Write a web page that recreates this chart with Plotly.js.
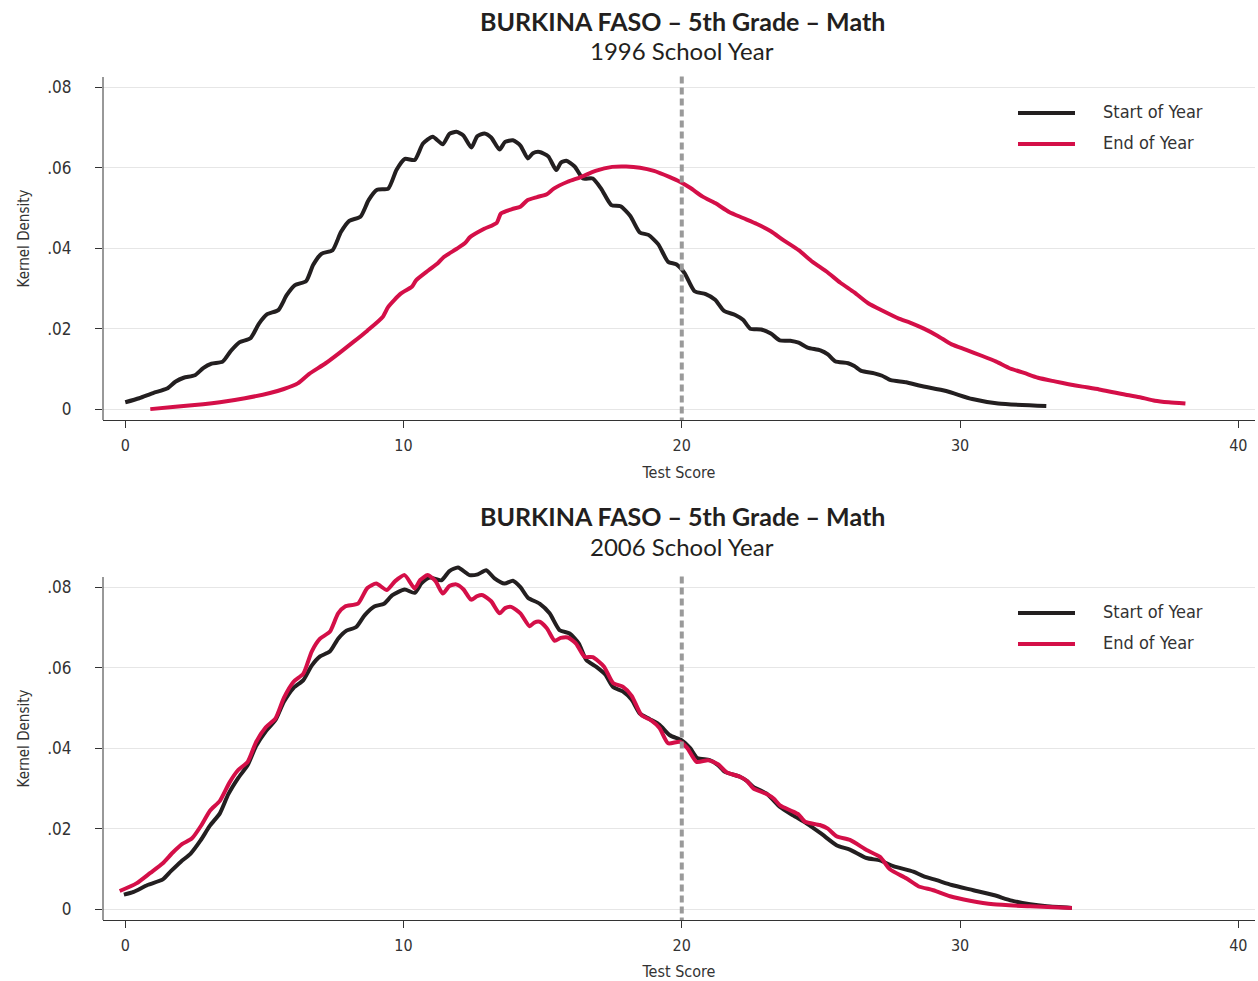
<!DOCTYPE html>
<html>
<head>
<meta charset="utf-8">
<script src="https://cdn.plot.ly/plotly-3.0.1.min.js"></script>
<style>html,body{margin:0;padding:0;background:#fff;}#chart{width:1258px;height:981px;}</style>
</head>
<body>
<div id="chart"></div>
<script>
// ---- Data ----
const titleMain = "BURKINA FASO – 5th Grade – Math";
const subtitles = ["1996 School Year", "2006 School Year"];
const seriesNames = ["Start of Year", "End of Year"];
const xTicks = [0, 10, 20, 30, 40];
const yTicks = [0, 0.02, 0.04, 0.06, 0.08];
const yTickText = ["0", ".02", ".04", ".06", ".08"];
const cutoffScore = 20;

const start1996X = [0,0.5,1.0,1.5,1.8,2.1,2.5,2.8,3.1,3.5,3.8,4.1,4.5,4.8,5.1,5.5,5.8,6.1,6.5,6.75,7.05,7.45,7.75,8.05,8.45,8.75,9.05,9.45,9.75,10.05,10.4,10.7,11.05,11.41,11.65,11.9,12.15,12.44,12.65,12.91,13.15,13.45,13.65,13.93,14.2,14.47,14.65,14.89,15.2,15.49,15.65,15.85,16.15,16.45,16.8,17.1,17.47,17.8,18.15,18.49,18.8,19.15,19.51,19.8,20.1,20.46,20.86,21.2,21.52,21.92,22.2,22.46,22.85,23.2,23.52,23.9,24.2,24.52,24.98,25.25,25.51,25.98,26.2,26.45,26.92,27.2,27.51,28.06,28.57,29.5,30.44,31.37,33.1];
const start1996Y = [0.0017,0.0027,0.0040,0.0051,0.0068,0.0078,0.0084,0.0102,0.0113,0.0118,0.0145,0.0166,0.0176,0.0212,0.0236,0.0246,0.0283,0.0308,0.0318,0.0358,0.0386,0.0395,0.0440,0.0468,0.0478,0.0520,0.0545,0.0548,0.0595,0.0622,0.0619,0.0660,0.0677,0.0658,0.0684,0.0689,0.0680,0.0650,0.0678,0.0685,0.0675,0.0645,0.0664,0.0668,0.0655,0.0623,0.0636,0.0639,0.0628,0.0594,0.0612,0.0617,0.0603,0.0573,0.0573,0.0548,0.0507,0.0504,0.0480,0.0439,0.0433,0.0410,0.0366,0.0360,0.0338,0.0293,0.0286,0.0272,0.0244,0.0234,0.0222,0.0200,0.0198,0.0188,0.0171,0.0170,0.0165,0.0153,0.0146,0.0136,0.0119,0.0114,0.0107,0.0095,0.0089,0.0083,0.0072,0.0067,0.0058,0.0045,0.0025,0.0014,0.0008];

const end1996X = [0.9,1.8,2.8,3.4,4.3,5.2,5.7,6.2,6.6,7.2,7.7,8.2,8.7,9.25,9.45,9.9,10.3,10.45,10.9,11.25,11.45,11.9,12.2,12.4,12.9,13.35,13.5,13.9,14.2,14.45,14.8,15.15,15.4,15.9,16.35,16.9,17.5,18.0,18.5,19.0,19.55,19.93,20.3,20.75,21.2,21.7,22.2,22.7,23.2,23.65,24.2,24.7,25.2,25.7,26.2,26.7,27.2,27.8,28.2,28.7,29.2,29.7,30.2,30.8,31.3,31.8,32.3,32.8,33.4,33.9,34.4,35.0,35.5,36.0,36.5,37.0,37.5,38.1];
const end1996Y = [0.0000,0.0006,0.0012,0.0017,0.0027,0.0040,0.0050,0.0064,0.0087,0.0114,0.0140,0.0167,0.0195,0.0229,0.0254,0.0287,0.0304,0.0320,0.0345,0.0364,0.0378,0.0398,0.0412,0.0428,0.0448,0.0463,0.0486,0.0497,0.0503,0.0519,0.0527,0.0534,0.0548,0.0565,0.0576,0.0592,0.0602,0.0603,0.0600,0.0592,0.0577,0.0565,0.0550,0.0528,0.0512,0.0490,0.0475,0.0460,0.0442,0.0420,0.0395,0.0366,0.0342,0.0314,0.0290,0.0263,0.0245,0.0225,0.0215,0.0200,0.0182,0.0161,0.0148,0.0132,0.0118,0.0101,0.0090,0.0078,0.0069,0.0062,0.0056,0.0049,0.0042,0.0035,0.0029,0.0021,0.0017,0.0014];

const start2006X = [-0.05,0.3,0.8,1.35,1.65,2.0,2.35,2.7,3.05,3.4,3.7,4.05,4.4,4.7,5.05,5.4,5.7,6.05,6.4,6.7,7.0,7.35,7.65,7.95,8.3,8.6,8.95,9.3,9.6,10.04,10.4,10.65,10.94,11.36,11.65,11.96,12.37,12.67,12.97,13.27,13.63,13.93,14.2,14.47,14.89,15.25,15.61,15.97,16.3,16.57,16.93,17.25,17.53,17.88,18.2,18.49,18.85,19.2,19.57,19.99,20.3,20.55,21.0,21.3,21.55,22.09,22.35,22.57,23.05,23.53,24.0,24.48,25.0,25.56,26.04,26.64,27.12,27.6,28.32,28.68,29.16,29.7,30.48,31.2,31.86,32.52,33.12,34.02];
const start2006Y = [0.0036,0.0043,0.0060,0.0074,0.0095,0.0118,0.0138,0.0170,0.0208,0.0238,0.0285,0.0325,0.0358,0.0405,0.0442,0.0470,0.0515,0.0550,0.0569,0.0605,0.0628,0.0640,0.0672,0.0692,0.0701,0.0730,0.0752,0.0759,0.0780,0.0794,0.0786,0.0810,0.0824,0.0817,0.0840,0.0849,0.0830,0.0832,0.0842,0.0822,0.0809,0.0816,0.0800,0.0774,0.0759,0.0735,0.0693,0.0685,0.0660,0.0619,0.0602,0.0583,0.0552,0.0541,0.0520,0.0486,0.0472,0.0458,0.0432,0.0420,0.0400,0.0376,0.0370,0.0358,0.0341,0.0329,0.0318,0.0304,0.0287,0.0254,0.0233,0.0213,0.0188,0.0159,0.0148,0.0127,0.0121,0.0107,0.0093,0.0082,0.0072,0.0060,0.0047,0.0035,0.0021,0.0012,0.0007,0.0003];

const end2006X = [-0.2,0.4,0.9,1.35,1.7,2.05,2.4,2.75,3.05,3.4,3.75,4.05,4.4,4.7,5.05,5.4,5.7,6.05,6.4,6.7,7.0,7.35,7.65,7.9,8.36,8.7,9.02,9.4,9.7,10.04,10.4,10.6,10.87,11.15,11.41,11.65,11.89,12.15,12.43,12.65,12.85,13.15,13.45,13.65,13.87,14.2,14.53,14.7,14.89,15.15,15.43,15.65,15.91,16.2,16.51,16.8,17.2,17.53,17.88,18.2,18.55,18.9,19.2,19.51,19.93,20.2,20.53,20.95,21.3,21.61,22.09,22.35,22.57,23.05,23.3,23.53,23.95,24.2,24.43,24.96,25.25,25.56,26.04,26.64,27.12,27.48,28.08,28.5,29.04,29.64,30.36,31.2,32.52,34.02];
const end2006Y = [0.0045,0.0064,0.0090,0.0114,0.0140,0.0162,0.0176,0.0210,0.0245,0.0269,0.0315,0.0345,0.0366,0.0415,0.0452,0.0474,0.0525,0.0565,0.0585,0.0640,0.0672,0.0689,0.0735,0.0752,0.0759,0.0798,0.0809,0.0793,0.0815,0.0830,0.0797,0.0818,0.0830,0.0815,0.0784,0.0803,0.0807,0.0795,0.0769,0.0778,0.0780,0.0765,0.0735,0.0748,0.0751,0.0735,0.0703,0.0712,0.0714,0.0698,0.0667,0.0674,0.0675,0.0660,0.0627,0.0626,0.0603,0.0562,0.0553,0.0530,0.0482,0.0469,0.0450,0.0412,0.0416,0.0400,0.0366,0.0370,0.0360,0.0340,0.0329,0.0318,0.0300,0.0286,0.0275,0.0258,0.0244,0.0235,0.0217,0.0209,0.0200,0.0181,0.0172,0.0147,0.0130,0.0099,0.0076,0.0057,0.0047,0.0032,0.0021,0.0012,0.0007,0.0003];

// ---- Styles ----
const BLACK = "#231f20";
const RED = "#d40f48";
const GRID = "#e6e6e6";
const AXIS = "#333333";
const NARROW = "'Liberation Sans Narrow', 'DejaVu Sans Condensed', 'Roboto Condensed', Lato, sans-serif";
const TITLEFONT = "Lato, 'Open Sans', sans-serif";

function line(x, y, color, xa, ya, name) {
  return {type: "scatter", mode: "lines", x: x, y: y, name: name, xaxis: xa, yaxis: ya,
          line: {color: color, width: 4, shape: "spline", smoothing: 0.6}, showlegend: false, hoverinfo: "x+y"};
}

const traces = [
  line(start1996X, start1996Y, BLACK, "x", "y", seriesNames[0]),
  line(end1996X, end1996Y, RED, "x", "y", seriesNames[1]),
  line(start2006X, start2006Y, BLACK, "x2", "y2", seriesNames[0]),
  line(end2006X, end2006Y, RED, "x2", "y2", seriesNames[1])
];

const H = 981;
const py = p => 1 - p / H;
const px = p => (p - 103) / 1152;

function xaxis(anchor) {
  return {anchor: anchor, domain: [0, 1], range: [-0.8, 40.6], tickvals: xTicks, ticktext: xTicks.map(String),
          showline: true, linecolor: AXIS, linewidth: 1, ticks: "outside", ticklen: 7, tickcolor: AXIS,
          ticklabelstandoff: 4,
          showgrid: false, zeroline: false, tickfont: {family: NARROW, size: 16, color: AXIS},
          title: {text: "Test Score", font: {family: NARROW, size: 16, color: AXIS}, standoff: 12}};
}
// the plotting area is extended 20px above the axis line so curves may rise past .0825 as in the reference
function yaxis(anchor, bottomPx, topPx) {
  return {anchor: anchor, domain: [py(bottomPx), py(topPx - 20)], range: [-0.0027, 0.0875], tickvals: yTicks, ticktext: yTickText,
          showline: false, ticks: "outside", ticklen: 7, tickcolor: AXIS, ticklabelstandoff: 20,
          showgrid: true, gridcolor: GRID, gridwidth: 1, zeroline: false,
          tickfont: {family: NARROW, size: 17, color: AXIS},
          title: {text: "Kernel Density", font: {family: NARROW, size: 15, color: AXIS}, standoff: 14}};
}

const shapes = [];
const annotations = [];
const panels = [
  {xa: "x", ya: "y", titleY: 21, subY: 51, legY: 113, sub: subtitles[0], top: 77, bottom: 420},
  {xa: "x2", ya: "y2", titleY: 516, subY: 546, legY: 613, sub: subtitles[1], top: 577, bottom: 920}
];
panels.forEach(p => {
  // y axis line
  shapes.push({type: "line", xref: "paper", yref: "paper", x0: 0, x1: 0, y0: py(p.bottom), y1: py(p.top),
               line: {color: AXIS, width: 1}});
  // cutoff line at 20
  shapes.push({type: "line", xref: p.xa, yref: p.ya, x0: cutoffScore, x1: cutoffScore, y0: -0.0038, y1: 0.0833,
               line: {color: "#9a9a9a", width: 4, dash: "7px,4px"}});
  annotations.push({text: "<b>" + titleMain + "</b>", xref: "paper", yref: "paper", x: px(682), y: py(p.titleY),
                    xanchor: "center", yanchor: "middle", showarrow: false,
                    font: {family: TITLEFONT, size: 25, color: BLACK}});
  annotations.push({text: p.sub, xref: "paper", yref: "paper", x: px(682), y: py(p.subY),
                    xanchor: "center", yanchor: "middle", showarrow: false,
                    font: {family: TITLEFONT, size: 24, color: BLACK}});
  [BLACK, RED].forEach((c, i) => {
    const yy = py(p.legY + i * 31);
    shapes.push({type: "line", xref: "paper", yref: "paper", x0: px(1018), x1: px(1075), y0: yy, y1: yy,
                 line: {color: c, width: 4}});
    annotations.push({text: seriesNames[i], xref: "paper", yref: "paper", x: px(1101), y: py(p.legY - 2 + i * 31),
                      xanchor: "left", yanchor: "middle", showarrow: false,
                      font: {family: NARROW, size: 18, color: AXIS}});
  });
});

const layout = {
  width: 1258, height: 981,
  margin: {l: 103, r: 3, t: 0, b: 0},
  paper_bgcolor: "#fff", plot_bgcolor: "#fff",
  showlegend: false,
  xaxis: xaxis("y"),
  yaxis: yaxis("x", 420, 77),
  xaxis2: xaxis("y2"),
  yaxis2: yaxis("x2", 920, 577),
  shapes: shapes,
  annotations: annotations
};

Plotly.newPlot("chart", traces, layout, {displayModeBar: false, staticPlot: true});
</script>
</body>
</html>
